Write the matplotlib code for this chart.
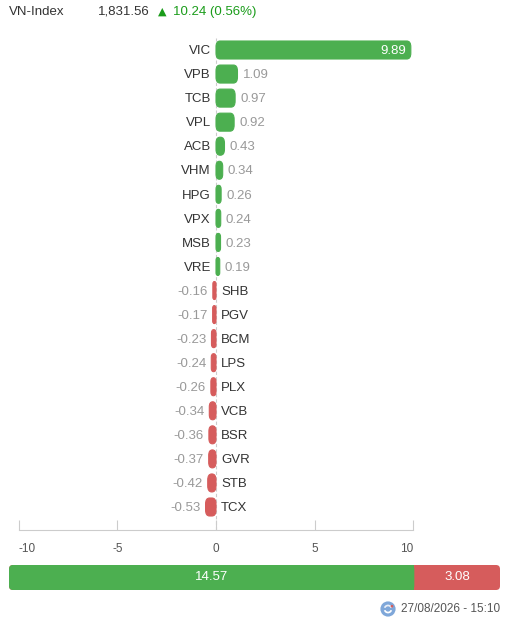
import matplotlib
matplotlib.use("Agg")
import matplotlib.pyplot as plt
from matplotlib.patches import FancyBboxPatch, Circle, Wedge

plt.rcParams['font.family'] = ['Liberation Sans', 'DejaVu Sans']

tickers = ["VIC", "VPB", "TCB", "VPL", "ACB", "VHM", "HPG", "VPX", "MSB", "VRE",
           "SHB", "PGV", "BCM", "LPS", "PLX", "VCB", "BSR", "GVR", "STB", "TCX"]
values = [9.89, 1.09, 0.97, 0.92, 0.43, 0.34, 0.26, 0.24, 0.23, 0.19,
          -0.16, -0.17, -0.23, -0.24, -0.26, -0.34, -0.36, -0.37, -0.42, -0.53]
x_ticks = [-10, -5, 0, 5, 10]
total_up = 14.57
total_down = 3.08
index_name = "VN-Index"
index_value = "1,831.56"
index_change = "10.24 (0.56%)"
timestamp = "27/08/2026 - 15:10"

GREEN = "#4CAF50"
RED = "#D65C5C"
GRAY = "#999999"
DARK = "#333333"

W, H = 508, 621
fig = plt.figure(figsize=(W / 100, H / 100), dpi=100)

def fx(px):
    return px / W

def fy(py):
    return 1 - py / H

# header
fig.text(fx(9), fy(12), index_name, fontsize=9.5, color=DARK, va='center', ha='left')
fig.text(fx(98), fy(12), index_value, fontsize=9.5, color=DARK, va='center', ha='left')
fig.text(fx(158), fy(12), "\u25B2", fontsize=8, color="#1a9c1a", va='center', ha='left',
         family='DejaVu Sans')
fig.text(fx(173), fy(12), index_change, fontsize=9.5, color="#1a9c1a", va='center', ha='left')

# main chart
left_px, right_px = 19, 413
top_px, bottom_px = 38, 530
first_c, last_c = 50, 507
n = len(tickers)
row_px = (last_c - first_c) / (n - 1)
ax = fig.add_axes([fx(left_px), fy(bottom_px), fx(right_px - left_px), (bottom_px - top_px) / H])
ax.set_xlim(-10, 10)
ax.set_ylim((n - 1) + (bottom_px - last_c) / row_px, -(first_c - top_px) / row_px)

xunit_px = (right_px - left_px) / 20.0
yunit_px = row_px
aspect = xunit_px / yunit_px
bar_h = 18 / yunit_px
ty = 0.05  # small visual text offset

ax.axvline(0, color="#cccccc", lw=0.8, ls=(0, (3, 2)), zorder=0)

for i, (t, v) in enumerate(zip(tickers, values)):
    color = GREEN if v >= 0 else RED
    w = abs(v)
    x0 = min(0, v)
    r = min(4 / xunit_px, w / 2)
    patch = FancyBboxPatch((x0, i - bar_h / 2), w, bar_h,
                           boxstyle=f"round,pad=0,rounding_size={r}",
                           mutation_aspect=1 / aspect, fc=color, ec=color, lw=0.8, zorder=2)
    ax.add_patch(patch)
    off = 5 / xunit_px
    if v >= 0:
        ax.text(-off, i + ty, t, ha='right', va='center', fontsize=9.5, color=DARK)
        if w > 3:
            ax.text(v - off, i + ty, f"{v:.2f}", ha='right', va='center', fontsize=9.5, color='white')
        else:
            ax.text(v + off, i + ty, f"{v:.2f}", ha='left', va='center', fontsize=9.5, color=GRAY)
    else:
        ax.text(off, i + ty, t, ha='left', va='center', fontsize=9.5, color=DARK)
        ax.text(v - off, i + ty, f"{v:.2f}", ha='right', va='center', fontsize=9.5, color=GRAY)

for s in ['top', 'right', 'left']:
    ax.spines[s].set_visible(False)
ax.spines['bottom'].set_color("#cccccc")
ax.spines['bottom'].set_linewidth(0.8)
ax.set_yticks([])
ax.set_xticks(x_ticks)
ax.set_xticklabels([str(t) for t in x_ticks])
ax.tick_params(axis='x', direction='in', length=7, width=0.8, color="#cccccc",
               labelsize=8.5, labelcolor="#555555", pad=9)
labels = ax.get_xticklabels()
labels[0].set_ha('left')
labels[-1].set_ha('right')
ax.patch.set_alpha(0)

# bottom summary bar
bx0, bx1, by0, by1 = 9, 500, 565, 590
bax = fig.add_axes([fx(bx0), fy(by1), fx(bx1 - bx0), (by1 - by0) / H])
tot = total_up + total_down
bax.set_xlim(0, tot)
bax.set_ylim(0, 1)
bax.axis('off')
bw_px = bx1 - bx0
bh_px = by1 - by0
asp = (bw_px / tot) / bh_px
rr = 4 / (bw_px / tot)
bax.add_patch(FancyBboxPatch((0, 0), tot, 1, boxstyle=f"round,pad=0,rounding_size={rr}",
                             mutation_aspect=asp, fc=RED, ec='none'))
bax.add_patch(FancyBboxPatch((0, 0), total_up, 1, boxstyle=f"round,pad=0,rounding_size={rr}",
                             mutation_aspect=asp, fc=GREEN, ec='none'))
bax.add_patch(plt.Rectangle((total_up - rr, 0), rr, 1, fc=GREEN, ec='none'))
bax.text(total_up / 2, 0.52, f"{total_up:.2f}", ha='center', va='center', color='white', fontsize=9.5)
bax.text(total_up + total_down / 2, 0.52, f"{total_down:.2f}", ha='center', va='center',
         color='white', fontsize=9.5)

# footer
fig.text(fx(500), fy(608.5), timestamp, ha='right', va='center', fontsize=8.5, color="#555555")
iax = fig.add_axes([fx(380), fy(617), fx(16), 16 / H])
iax.set_xlim(-1, 1)
iax.set_ylim(-1, 1)
iax.set_aspect('equal')
iax.axis('off')
iax.add_patch(Circle((0, 0), 0.95, fc="#7fa7d9", ec='none'))
iax.add_patch(Wedge((0, 0), 0.55, 200, 340, width=0.22, fc="white", ec='none'))
iax.add_patch(Wedge((0, 0), 0.55, 20, 160, width=0.22, fc="#e9eef6", ec='none'))
iax.add_patch(Circle((0.5, 0.35), 0.17, fc="#d65c5c", ec='none'))

fig.savefig("out.png", dpi=100)
